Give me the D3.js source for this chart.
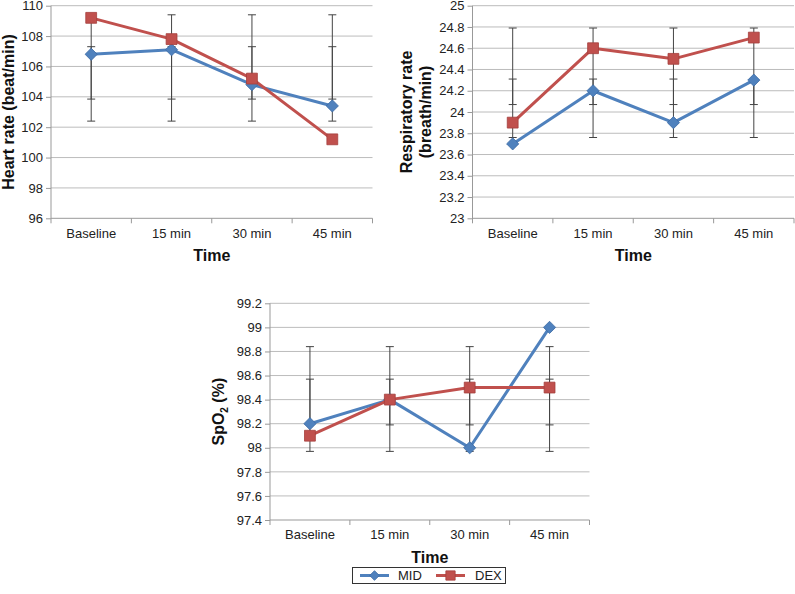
<!DOCTYPE html>
<html>
<head>
<meta charset="utf-8">
<script src="https://cdn.jsdelivr.net/npm/d3@7/dist/d3.min.js"></script>
<style>
  html, body { margin: 0; padding: 0; background: #fff; }
  svg { display: block; font-family: "Liberation Sans", Arial, sans-serif; }
</style>
</head>
<body>
<svg id="chart" width="795" height="594"></svg>
<script>
// ---- data ----
const categories = ["Baseline", "15 min", "30 min", "45 min"];
const seriesNames = ["MID", "DEX"];

const hrMID = [106.8, 107.1, 104.8, 103.4];
const hrDEX = [109.2, 107.8, 105.2, 101.2];
const hrMIDLow = [102.4, 102.4, 102.4, 102.4];
const hrMIDHigh = [107.3, 107.3, 107.3, 107.3];
const hrDEXLow = [103.85, 103.85, 103.85, 103.85];
const hrDEXHigh = [109.4, 109.4, 109.4, 109.4];
const hrTicks = [96, 98, 100, 102, 104, 106, 108, 110];

const rrMID = [23.7, 24.2, 23.9, 24.3];
const rrDEX = [23.9, 24.6, 24.5, 24.7];
const rrMIDLow = [23.76, 23.76, 23.76, 23.76];
const rrMIDHigh = [24.31, 24.31, 24.31, 24.31];
const rrDEXLow = [24.07, 24.07, 24.07, 24.07];
const rrDEXHigh = [24.79, 24.79, 24.79, 24.79];
const rrTicks = [23, 23.2, 23.4, 23.6, 23.8, 24, 24.2, 24.4, 24.6, 24.8, 25];

const spMID = [98.2, 98.4, 98.0, 99.0];
const spDEX = [98.1, 98.4, 98.5, 98.5];
const spMIDLow = [97.97, 97.97, 97.97, 97.97];
const spMIDHigh = [98.57, 98.57, 98.57, 98.57];
const spDEXLow = [98.19, 98.19, 98.19, 98.19];
const spDEXHigh = [98.84, 98.84, 98.84, 98.84];
const spTicks = [97.4, 97.6, 97.8, 98, 98.2, 98.4, 98.6, 98.8, 99, 99.2];

// ---- styles ----
const colors = { MID: "#4f81bd", DEX: "#c0504d" };
const strokes = { MID: "#3b6aa3", DEX: "#a43f3c" };
const gridColor = "#bcbcbc";
const axisColor = "#999";
const textColor = "#222";

const svg = d3.select("#chart");

function drawPanel(cfg) {
  const g = svg.append("g");
  const x = d3.scaleBand().domain(categories).range([cfg.x0, cfg.x1]);
  const y = d3.scaleLinear().domain([cfg.ticks[0], cfg.ticks[cfg.ticks.length - 1]]).range([cfg.yBot, cfg.yTop]);
  const fmt = v => d3.format("~g")(+v.toFixed(2));

  // gridlines
  g.append("g").selectAll("line").data(cfg.ticks.slice(1)).join("line")
    .attr("x1", cfg.x0).attr("x2", cfg.x1)
    .attr("y1", d => y(d)).attr("y2", d => y(d))
    .attr("stroke", gridColor).attr("stroke-width", 1);

  // y axis
  const ya = g.append("g").attr("transform", `translate(${cfg.x0},0)`)
    .call(d3.axisLeft(y).tickValues(cfg.ticks).tickFormat(fmt).tickSize(5).tickPadding(3));
  ya.select(".domain").attr("stroke", axisColor).attr("d", `M0,${cfg.yTop}V${cfg.yBot + 5}`);
  ya.selectAll(".tick line").attr("stroke", axisColor);
  ya.selectAll(".tick text").attr("font-size", 13).attr("fill", textColor)
    .attr("font-family", "Liberation Sans, Arial, sans-serif");

  // x axis
  const xa = g.append("g").attr("transform", `translate(0,${cfg.yBot})`)
    .call(d3.axisBottom(x).tickSize(0).tickPadding(10));
  xa.select(".domain").attr("stroke", axisColor).attr("d", `M${cfg.x0},0H${cfg.x1}`);
  xa.selectAll(".tick text").attr("font-size", 13).attr("fill", textColor)
    .attr("font-family", "Liberation Sans, Arial, sans-serif");
  // boundary ticks
  const bounds = categories.map(c => x(c)).concat([cfg.x1]);
  g.append("g").selectAll("line").data(bounds.slice(1)).join("line")
    .attr("x1", d => d).attr("x2", d => d)
    .attr("y1", cfg.yBot).attr("y2", cfg.yBot + 5)
    .attr("stroke", axisColor);

  // axis titles
  g.append("text").attr("x", (cfg.x0 + cfg.x1) / 2).attr("y", cfg.yBot + 43)
    .attr("text-anchor", "middle").attr("font-size", 16).attr("font-weight", "bold")
    .attr("fill", "#111").text("Time");

  const yt = g.append("text")
    .attr("transform", `translate(${cfg.titleX},${(cfg.yTop + cfg.yBot) / 2}) rotate(-90)`)
    .attr("text-anchor", "middle").attr("font-size", 16).attr("font-weight", "bold")
    .attr("fill", "#111");
  cfg.title(yt);

  const cx = c => x(c) + x.bandwidth() / 2;

  // error bars
  cfg.series.forEach(s => {
    const eg = g.append("g");
    categories.forEach((c, i) => {
      const lo = y(s.low[i]), hi = y(s.high[i]);
      eg.append("line").attr("x1", cx(c)).attr("x2", cx(c)).attr("y1", lo).attr("y2", hi)
        .attr("stroke", "#444").attr("stroke-width", 1);
      [lo, hi].forEach(yy => eg.append("line")
        .attr("x1", cx(c) - 4).attr("x2", cx(c) + 4).attr("y1", yy).attr("y2", yy)
        .attr("stroke", "#444").attr("stroke-width", 1));
    });
  });

  // lines + markers
  cfg.series.forEach(s => {
    const pts = categories.map((c, i) => [cx(c), y(s.values[i])]);
    g.append("path").attr("d", d3.line()(pts)).attr("fill", "none")
      .attr("stroke", colors[s.name]).attr("stroke-width", 3).attr("stroke-linejoin", "round");
    const sym = s.name === "MID" ? d3.symbolDiamond2 : d3.symbolSquare2;
    const size = s.name === "MID" ? 95 : 150;
    g.append("g").selectAll("path").data(pts).join("path")
      .attr("transform", d => `translate(${d[0]},${d[1]})`)
      .attr("d", d3.symbol(sym, size)())
      .attr("fill", colors[s.name]).attr("stroke", strokes[s.name]).attr("stroke-width", 0.8);
  });
}

drawPanel({
  x0: 51, x1: 372.5, yTop: 5.7, yBot: 218.3, ticks: hrTicks, titleX: 14,
  title: t => t.text("Heart rate (beat/min)"),
  series: [
    { name: "MID", values: hrMID, low: hrMIDLow, high: hrMIDHigh },
    { name: "DEX", values: hrDEX, low: hrDEXLow, high: hrDEXHigh }
  ]
});

drawPanel({
  x0: 472.5, x1: 794, yTop: 5.7, yBot: 218.3, ticks: rrTicks, titleX: 412,
  title: t => {
    t.append("tspan").attr("x", 0).attr("dy", 0).text("Respiratory rate");
    t.append("tspan").attr("x", 0).attr("dy", 19).text("(breath/min)");
  },
  series: [
    { name: "MID", values: rrMID, low: rrMIDLow, high: rrMIDHigh },
    { name: "DEX", values: rrDEX, low: rrDEXLow, high: rrDEXHigh }
  ]
});

drawPanel({
  x0: 270, x1: 589.5, yTop: 303.3, yBot: 520, ticks: spTicks, titleX: 224,
  title: t => {
    t.append("tspan").text("SpO");
    t.append("tspan").attr("font-size", 10).attr("dy", 4).text("2");
    t.append("tspan").attr("dy", -4).text(" (%)");
  },
  series: [
    { name: "MID", values: spMID, low: spMIDLow, high: spMIDHigh },
    { name: "DEX", values: spDEX, low: spDEXLow, high: spDEXHigh }
  ]
});

// legend
const lg = svg.append("g");
lg.append("rect").attr("x", 352.5).attr("y", 567.5).attr("width", 153).attr("height", 16)
  .attr("fill", "#fff").attr("stroke", "#333").attr("stroke-width", 1);
const legendItems = [
  { name: "MID", lx: 360, tx: 398 },
  { name: "DEX", lx: 436, tx: 475 }
];
legendItems.forEach(it => {
  lg.append("line").attr("x1", it.lx).attr("x2", it.lx + 29).attr("y1", 575.5).attr("y2", 575.5)
    .attr("stroke", colors[it.name]).attr("stroke-width", 3);
  const sym = it.name === "MID" ? d3.symbolDiamond2 : d3.symbolSquare2;
  const size = it.name === "MID" ? 60 : 110;
  lg.append("path").attr("transform", `translate(${it.lx + 14.5},575.5)`)
    .attr("d", d3.symbol(sym, size)())
    .attr("fill", colors[it.name]).attr("stroke", strokes[it.name]).attr("stroke-width", 0.8);
  lg.append("text").attr("x", it.tx).attr("y", 580).attr("font-size", 13).attr("fill", textColor)
    .text(it.name);
});
</script>
</body>
</html>
